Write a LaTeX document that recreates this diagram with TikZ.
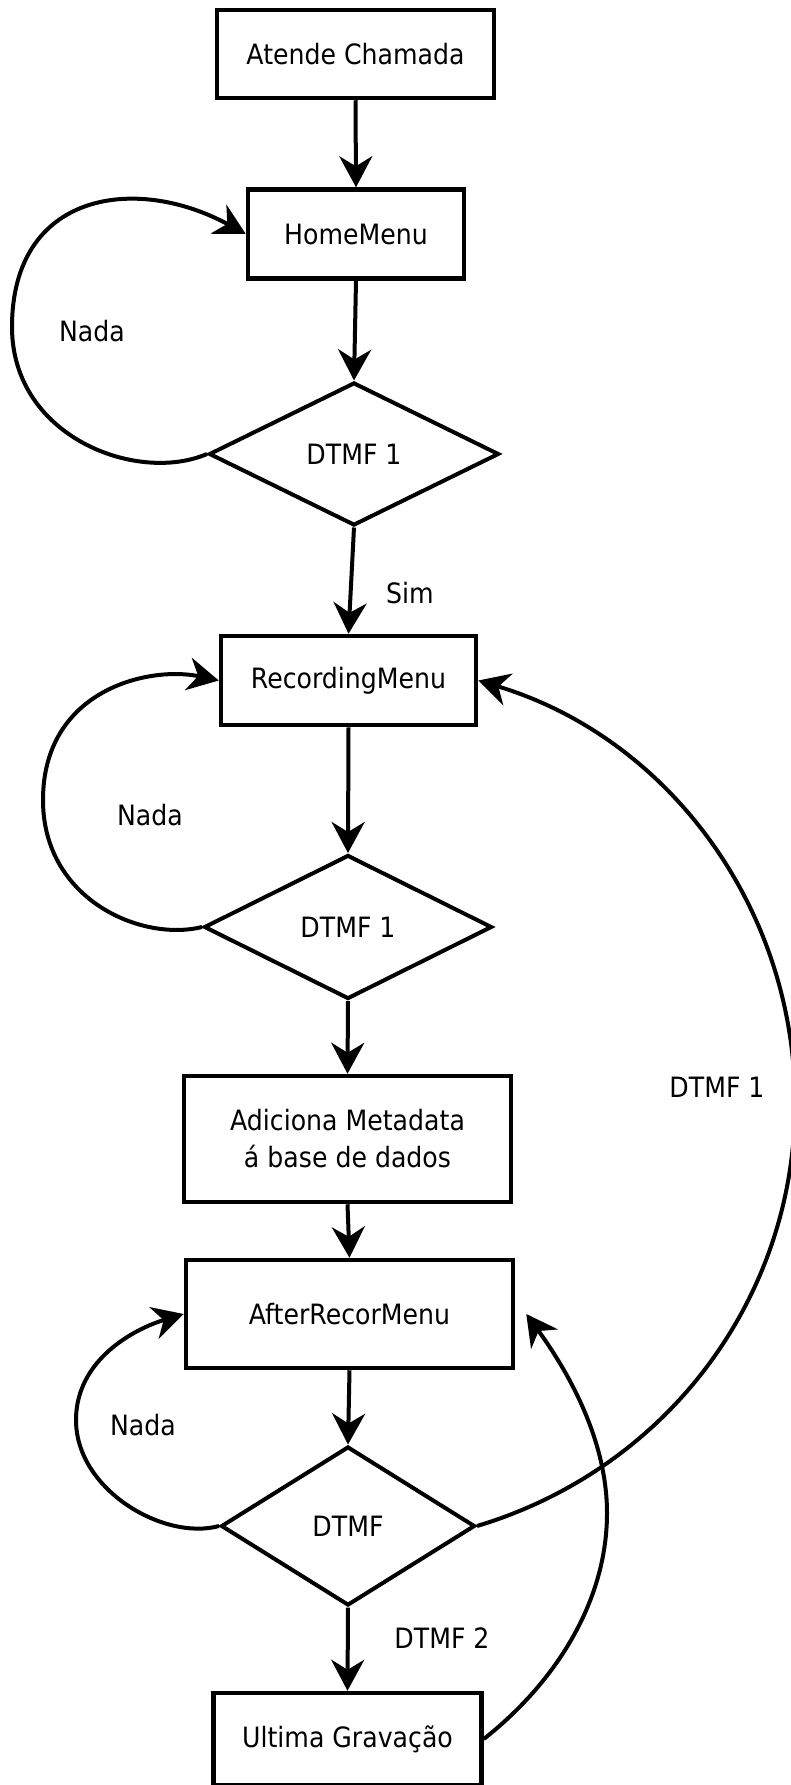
\documentclass[tikz,border=0pt]{standalone}
\usepackage{fontspec}
\setmainfont{DejaVu Sans}[FakeStretch=0.9]
\usetikzlibrary{shapes.geometric, arrows.meta, positioning}

\tikzset{
  caixa/.style={draw, rectangle, line width=4.5pt, inner sep=0pt, align=center},
  decisao/.style={draw, diamond, line width=4pt, inner sep=0pt},
  seta/.style={line width=4pt, -{Stealth[length=31pt, width=33pt, inset=10pt]}},
  rotulo/.style={inner sep=0pt}
}

\begin{document}
\begin{tikzpicture}[x=1pt, y=-1pt, font=\fontsize{28}{37}\selectfont]

            % Área do desenho
            \useasboundingbox (0,0) rectangle (790,1785);

            % Caixas do fluxo
            \node[caixa, minimum width=277pt, minimum height=88pt] (atende) at (355.5,54) {Atende Chamada};
            \node[caixa, minimum width=216pt, minimum height=89pt] (home) at (356,234) {HomeMenu};
            \node[decisao, minimum width=290pt, minimum height=143pt] (dtmfa) at (354,454) {DTMF 1};
            \node[caixa, minimum width=255pt, minimum height=89pt] (rec) at (348.5,680.5) {RecordingMenu};
            \node[decisao, minimum width=288pt, minimum height=144pt] (dtmfb) at (348,927) {DTMF 1};
            \node[caixa, minimum width=327pt, minimum height=126pt] (meta) at (347.5,1139) {Adiciona Metadata\\á base de dados};
            \node[caixa, minimum width=327pt, minimum height=108pt] (after) at (349.5,1314) {AfterRecorMenu};
            \node[decisao, minimum width=254pt, minimum height=159pt] (dtmfc) at (348,1526) {DTMF};
            \node[caixa, minimum width=268pt, minimum height=92pt] (ultima) at (347.5,1739) {Ultima Gravação};

            % Rótulos
            \node[rotulo] (nadaa) at (92,331) {Nada};
            \node[rotulo] (nadab) at (150,815) {Nada};
            \node[rotulo] (nadac) at (143,1425) {Nada};
            \node[rotulo] (sim) at (410,593) {Sim};
            \node[rotulo] (voltarec) at (717,1087) {DTMF 1};
            \node[rotulo] (dois) at (442,1638) {DTMF 2};

            % Pontos auxiliares das curvas
            \coordinate (bordaa) at (12,327);
            \coordinate (bordab) at (43,800);
            \coordinate (bordac) at (76,1420);
            \coordinate (arcorec) at (795,1103);
            \coordinate (arcoult) at (607,1513);
            \coordinate (fimult) at ([xshift=11pt]after.east);

            % Setas verticais
            \draw[seta] (atende.south) -- (home.north);
            \draw[seta] (home.south) -- (dtmfa.north);
            \draw[seta] (dtmfa.south) -- (rec.north);
            \draw[seta] (rec.south) -- (dtmfb.north);
            \draw[seta] (dtmfb.south) -- (meta.north);
            \draw[seta] (meta.south) -- (after.north);
            \draw[seta] (after.south) -- (dtmfc.north);
            \draw[seta] (dtmfc.south) -- (ultima.north);

            % Laços "Nada"
            \draw[seta] (dtmfa.west) .. controls +(-70,30) and +(0,110) .. (bordaa)
                        .. controls +(0,-135) and +(-110,-60) .. (home.west);
            \draw[seta] (dtmfb.west) .. controls +(-60,15) and +(0,100) .. (bordab)
                        .. controls +(0,-110) and +(-70,-15) .. (rec.west);
            \draw[seta] (dtmfc.west) .. controls +(-55,15) and +(0,70) .. (bordac)
                        .. controls +(0,-60) and +(-50,15) .. (after.west);

            % Retornos pela direita
            \draw[seta] (dtmfc.east) .. controls +(190,-57) and +(0,195) .. (arcorec)
                        .. controls +(0,-195) and +(190,57) .. (rec.east);
            \draw[seta] (ultima.east) .. controls +(70,-55) and +(0,90) .. (arcoult)
                        .. controls +(0,-75) and +(40,55) .. (fimult);

\end{tikzpicture}
\end{document}
